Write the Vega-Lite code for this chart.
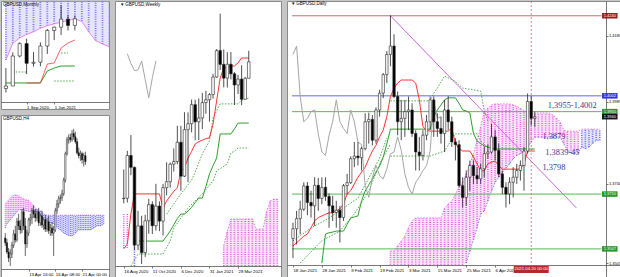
{
"$schema":"https://vega.github.io/schema/vega-lite/v6.json",
"padding":0,
"background":"#c6c6c6",
"spacing":4,
"config":{
 "view":{"stroke":"#8a8a8a","fill":"#ffffff","strokeWidth":1},
 "axis":{"grid":false,"labelFont":"Liberation Sans","labelFontSize":4.3,"labelColor":"#000000","domainColor":"#555555","tickColor":"#555555","tickSize":2,"labelPadding":1,"labelOverlap":false,"labelFlush":false,"domainWidth":0.8,"tickWidth":0.8},
 "title":{"font":"Liberation Sans","fontSize":4.5,"fontWeight":"normal","color":"#000000","anchor":"start","baseline":"middle","offset":-5}
},
"datasets":{
"dc":[
{"i":0,"o":1.3578,"h":1.3625,"l":1.352,"c":1.3607},{"i":1,"o":1.3607,"h":1.366,"l":1.356,"c":1.3637},{"i":2,"o":1.3637,"h":1.369,"l":1.359,"c":1.3665},{"i":3,"o":1.3665,"h":1.3745,"l":1.366,"c":1.3734},{"i":4,"o":1.3734,"h":1.3746,"l":1.3647,"c":1.3685},{"i":5,"o":1.3685,"h":1.372,"l":1.364,"c":1.3675},{"i":6,"o":1.3675,"h":1.376,"l":1.3615,"c":1.3736},{"i":7,"o":1.3736,"h":1.3758,"l":1.366,"c":1.3697},{"i":8,"o":1.3697,"h":1.376,"l":1.368,"c":1.373},{"i":9,"o":1.373,"h":1.376,"l":1.369,"c":1.3703},
{"i":10,"o":1.3703,"h":1.3712,"l":1.361,"c":1.3675},{"i":11,"o":1.3675,"h":1.3705,"l":1.363,"c":1.3655},{"i":12,"o":1.3655,"h":1.369,"l":1.361,"c":1.3662},{"i":13,"o":1.3662,"h":1.3675,"l":1.3566,"c":1.364},{"i":14,"o":1.364,"h":1.374,"l":1.363,"c":1.3735},{"i":15,"o":1.3735,"h":1.377,"l":1.371,"c":1.3744},{"i":16,"o":1.3744,"h":1.3822,"l":1.374,"c":1.3815},{"i":17,"o":1.3815,"h":1.3865,"l":1.379,"c":1.3823},{"i":18,"o":1.3823,"h":1.3865,"l":1.3795,"c":1.3818},{"i":19,"o":1.3818,"h":1.385,"l":1.378,"c":1.3845},
{"i":20,"o":1.3845,"h":1.395,"l":1.384,"c":1.3925},{"i":21,"o":1.3925,"h":1.3952,"l":1.386,"c":1.3932},{"i":22,"o":1.3932,"h":1.3945,"l":1.3855,"c":1.387},{"i":23,"o":1.387,"h":1.3968,"l":1.386,"c":1.396},{"i":24,"o":1.396,"h":1.402,"l":1.394,"c":1.401},{"i":25,"o":1.401,"h":1.407,"l":1.3995,"c":1.4065},{"i":26,"o":1.4065,"h":1.4135,"l":1.404,"c":1.4125},{"i":27,"o":1.4125,"h":1.4241,"l":1.409,"c":1.415},{"i":28,"o":1.415,"h":1.4185,"l":1.3995,"c":1.4},{"i":29,"o":1.4,"h":1.4015,"l":1.3885,"c":1.3925},
{"i":30,"o":1.3925,"h":1.399,"l":1.387,"c":1.3935},{"i":31,"o":1.3935,"h":1.399,"l":1.388,"c":1.3955},{"i":32,"o":1.3955,"h":1.4,"l":1.39,"c":1.396},{"i":33,"o":1.396,"h":1.398,"l":1.388,"c":1.389},{"i":34,"o":1.389,"h":1.39,"l":1.378,"c":1.3835},{"i":35,"o":1.3835,"h":1.388,"l":1.378,"c":1.3825},{"i":36,"o":1.3825,"h":1.39,"l":1.381,"c":1.3885},{"i":37,"o":1.3885,"h":1.3945,"l":1.387,"c":1.3925},{"i":38,"o":1.3925,"h":1.4,"l":1.39,"c":1.399},{"i":39,"o":1.399,"h":1.4,"l":1.388,"c":1.3925},
{"i":40,"o":1.3925,"h":1.395,"l":1.388,"c":1.3905},{"i":41,"o":1.3905,"h":1.394,"l":1.386,"c":1.389},{"i":42,"o":1.389,"h":1.399,"l":1.3835,"c":1.396},{"i":43,"o":1.396,"h":1.4001,"l":1.39,"c":1.3925},{"i":44,"o":1.3925,"h":1.394,"l":1.385,"c":1.3865},{"i":45,"o":1.3865,"h":1.3876,"l":1.381,"c":1.3857},{"i":46,"o":1.3857,"h":1.387,"l":1.373,"c":1.3735},{"i":47,"o":1.3735,"h":1.376,"l":1.367,"c":1.37},{"i":48,"o":1.37,"h":1.378,"l":1.3675,"c":1.376},{"i":49,"o":1.376,"h":1.381,"l":1.372,"c":1.3795},
{"i":50,"o":1.3795,"h":1.381,"l":1.374,"c":1.3765},{"i":51,"o":1.3765,"h":1.379,"l":1.374,"c":1.3755},{"i":52,"o":1.3755,"h":1.38,"l":1.374,"c":1.3785},{"i":53,"o":1.3785,"h":1.385,"l":1.376,"c":1.383},{"i":54,"o":1.383,"h":1.3858,"l":1.3815,"c":1.3835},{"i":55,"o":1.3835,"h":1.3919,"l":1.383,"c":1.388},{"i":56,"o":1.388,"h":1.39,"l":1.381,"c":1.384},{"i":57,"o":1.384,"h":1.386,"l":1.376,"c":1.377},{"i":58,"o":1.377,"h":1.378,"l":1.371,"c":1.373},{"i":59,"o":1.373,"h":1.3745,"l":1.367,"c":1.371},
{"i":60,"o":1.371,"h":1.376,"l":1.368,"c":1.3745},{"i":61,"o":1.3745,"h":1.379,"l":1.37,"c":1.376},{"i":62,"o":1.376,"h":1.38,"l":1.374,"c":1.378},{"i":63,"o":1.378,"h":1.381,"l":1.375,"c":1.3795},{"i":64,"o":1.3795,"h":1.385,"l":1.372,"c":1.3838},{"i":65,"o":1.3838,"h":1.4009,"l":1.383,"c":1.3985},{"i":66,"o":1.3985,"h":1.4002,"l":1.3915,"c":1.3935},{"i":67,"o":1.3935,"h":1.3955,"l":1.391,"c":1.394}
],
"dten":[
{"i":0,"p":1.3556},{"i":1,"p":1.3565},{"i":2,"p":1.3575},{"i":3,"p":1.3585},{"i":4,"p":1.3591},{"i":5,"p":1.361},{"i":6,"p":1.363},{"i":7,"p":1.364},{"i":8,"p":1.3645},{"i":9,"p":1.365},{"i":10,"p":1.3654},{"i":11,"p":1.3654},{"i":12,"p":1.366},{"i":13,"p":1.3666},{"i":14,"p":1.368},{"i":15,"p":1.371},{"i":16,"p":1.372},{"i":17,"p":1.374},{"i":18,"p":1.376},{"i":19,"p":1.3775},{"i":20,"p":1.379},{"i":21,"p":1.3815},{"i":22,"p":1.3838},{"i":23,"p":1.3855},{"i":24,"p":1.388},{"i":25,"p":1.39},{"i":26,"p":1.394},{"i":27,"p":1.4},{"i":28,"p":1.4025},{"i":29,"p":1.404},{"i":30,"p":1.4049},{"i":31,"p":1.4049},{"i":32,"p":1.4049},{"i":33,"p":1.4049},{"i":34,"p":1.404},{"i":35,"p":1.399},{"i":36,"p":1.391},{"i":37,"p":1.39},{"i":38,"p":1.3897},{"i":39,"p":1.3897},{"i":40,"p":1.3897},{"i":41,"p":1.3897},{"i":42,"p":1.3897},{"i":43,"p":1.3897},{"i":44,"p":1.3906},{"i":45,"p":1.386},{"i":46,"p":1.3845},{"i":47,"p":1.3838},{"i":48,"p":1.3838},{"i":49,"p":1.3838},{"i":50,"p":1.382},{"i":51,"p":1.38},{"i":52,"p":1.3779},{"i":53,"p":1.3779},{"i":54,"p":1.38},{"i":55,"p":1.3805},{"i":56,"p":1.3808},{"i":57,"p":1.3795},{"i":58,"p":1.3784},{"i":59,"p":1.3784},{"i":60,"p":1.3784},{"i":61,"p":1.3784},{"i":62,"p":1.3784},{"i":63,"p":1.3784},{"i":64,"p":1.38},{"i":65,"p":1.3838},{"i":66,"p":1.3838},{"i":67,"p":1.3838}
],
"dkij":[
{"i":8,"p":1.3505},{"i":9,"p":1.3591},{"i":10,"p":1.3595},{"i":11,"p":1.3597},{"i":12,"p":1.36},{"i":13,"p":1.36},{"i":14,"p":1.36},{"i":15,"p":1.362},{"i":16,"p":1.3639},{"i":17,"p":1.3642},{"i":18,"p":1.3645},{"i":19,"p":1.369},{"i":20,"p":1.3719},{"i":21,"p":1.3737},{"i":22,"p":1.3755},{"i":23,"p":1.3775},{"i":24,"p":1.3793},{"i":25,"p":1.382},{"i":26,"p":1.3859},{"i":27,"p":1.3903},{"i":38,"p":1.3903},{"i":39,"p":1.394},{"i":40,"p":1.396},{"i":41,"p":1.3975},{"i":42,"p":1.399},{"i":43,"p":1.3996},{"i":45,"p":1.3996},{"i":46,"p":1.398},{"i":47,"p":1.396},{"i":48,"p":1.3957},{"i":49,"p":1.3951},{"i":50,"p":1.389},{"i":51,"p":1.3868},{"i":52,"p":1.386},{"i":53,"p":1.3853},{"i":54,"p":1.385},{"i":55,"p":1.3845},{"i":56,"p":1.3844},{"i":67,"p":1.3844}
],
"dchi":[
{"i":0,"p":1.4125},{"i":1,"p":1.415},{"i":2,"p":1.4},{"i":3,"p":1.3925},{"i":4,"p":1.3935},{"i":5,"p":1.3955},{"i":6,"p":1.396},{"i":7,"p":1.389},{"i":8,"p":1.3835},{"i":9,"p":1.3825},{"i":10,"p":1.3885},{"i":11,"p":1.3925},{"i":12,"p":1.399},{"i":13,"p":1.3925},{"i":14,"p":1.3905},{"i":15,"p":1.389},{"i":16,"p":1.396},{"i":17,"p":1.3925},{"i":18,"p":1.3865},{"i":19,"p":1.3857},{"i":20,"p":1.3735},{"i":21,"p":1.37},{"i":22,"p":1.376},{"i":23,"p":1.3795},{"i":24,"p":1.3765},{"i":25,"p":1.3755},{"i":26,"p":1.3785},{"i":27,"p":1.383},{"i":28,"p":1.3835},{"i":29,"p":1.388},{"i":30,"p":1.384},{"i":31,"p":1.377},{"i":32,"p":1.373},{"i":33,"p":1.371},{"i":34,"p":1.3745},{"i":35,"p":1.376},{"i":36,"p":1.378},{"i":37,"p":1.3795},{"i":38,"p":1.3838},{"i":39,"p":1.3985},{"i":40,"p":1.3935},{"i":41,"p":1.394}
],
"dgd":[
{"s":"a","i":0,"p":1.3571},{"s":"a","i":5,"p":1.3609},{"s":"a","i":10,"p":1.3639},{"s":"a","i":18,"p":1.3698},{"s":"a","i":21,"p":1.3758},{"s":"a","i":24,"p":1.3817},{"s":"a","i":26,"p":1.3877},
{"s":"b","i":2,"p":1.3505},{"s":"b","i":8,"p":1.3571},{"s":"b","i":13,"p":1.36},{"s":"b","i":17,"p":1.3651},{"s":"b","i":21,"p":1.3719},{"s":"b","i":24,"p":1.3799},{"s":"b","i":27,"p":1.3859},
{"s":"c","i":27,"p":1.3987},{"s":"c","i":38,"p":1.3987},{"s":"c","i":39,"p":1.401},{"s":"c","i":40,"p":1.4025},{"s":"c","i":42,"p":1.4061},{"s":"c","i":45,"p":1.4045},{"s":"c","i":47,"p":1.4025},{"s":"c","i":52,"p":1.4016},{"s":"c","i":53,"p":1.3957},{"s":"c","i":54,"p":1.3927},
{"s":"d","i":27,"p":1.3823},{"s":"d","i":38,"p":1.3823},{"s":"d","i":42,"p":1.3838},{"s":"d","i":45,"p":1.3889},{"s":"d","i":51,"p":1.3889},{"s":"d","i":52,"p":1.3868},{"s":"d","i":54,"p":1.3847}
],
"dcl":[
{"i":27,"u":1.3541,"l":1.35,"t":"up"},{"i":28,"u":1.3541,"l":1.35,"t":"up"},{"i":29,"u":1.3556,"l":1.35,"t":"up"},{"i":30,"u":1.357,"l":1.35,"t":"up"},{"i":31,"u":1.3585,"l":1.35,"t":"up"},{"i":32,"u":1.361,"l":1.35,"t":"up"},{"i":33,"u":1.363,"l":1.35,"t":"up"},{"i":34,"u":1.3639,"l":1.35,"t":"up"},{"i":35,"u":1.3639,"l":1.35,"t":"up"},{"i":36,"u":1.3639,"l":1.35,"t":"up"},{"i":37,"u":1.3639,"l":1.35,"t":"up"},{"i":38,"u":1.3639,"l":1.35,"t":"up"},{"i":39,"u":1.3639,"l":1.35,"t":"up"},{"i":40,"u":1.3639,"l":1.35,"t":"up"},{"i":41,"u":1.3639,"l":1.35,"t":"up"},{"i":42,"u":1.3669,"l":1.35,"t":"up"},{"i":43,"u":1.368,"l":1.35,"t":"up"},{"i":44,"u":1.3689,"l":1.35,"t":"up"},{"i":45,"u":1.371,"l":1.35,"t":"up"},{"i":46,"u":1.373,"l":1.35,"t":"up"},{"i":47,"u":1.3745,"l":1.35,"t":"up"},
{"i":48,"u":1.377,"l":1.3505,"t":"up"},{"i":49,"u":1.38,"l":1.354,"t":"up"},{"i":50,"u":1.383,"l":1.3575,"t":"up"},{"i":51,"u":1.387,"l":1.361,"t":"up"},{"i":52,"u":1.391,"l":1.365,"t":"up"},{"i":53,"u":1.3957,"l":1.366,"t":"up"},{"i":54,"u":1.3965,"l":1.369,"t":"up"},{"i":55,"u":1.3975,"l":1.372,"t":"up"},{"i":56,"u":1.3978,"l":1.3745,"t":"up"},{"i":57,"u":1.3978,"l":1.376,"t":"up"},{"i":58,"u":1.3978,"l":1.3775,"t":"up"},{"i":59,"u":1.3978,"l":1.3787,"t":"up"},{"i":60,"u":1.3978,"l":1.38,"t":"up"},{"i":61,"u":1.3975,"l":1.3815,"t":"up"},{"i":62,"u":1.397,"l":1.3825,"t":"up"},{"i":63,"u":1.3965,"l":1.383,"t":"up"},{"i":64,"u":1.3958,"l":1.3838,"t":"up"},{"i":65,"u":1.3951,"l":1.385,"t":"up"},{"i":66,"u":1.3951,"l":1.3865,"t":"up"},{"i":67,"u":1.3951,"l":1.3879,"t":"up"},{"i":68,"u":1.3951,"l":1.3879,"t":"up"},{"i":69,"u":1.3951,"l":1.3879,"t":"up"},{"i":70,"u":1.3951,"l":1.3879,"t":"up"},{"i":71,"u":1.3951,"l":1.3879,"t":"up"},{"i":72,"u":1.3945,"l":1.3879,"t":"up"},{"i":73,"u":1.3936,"l":1.3879,"t":"up"},{"i":74,"u":1.3925,"l":1.3879,"t":"up"},{"i":75,"u":1.39,"l":1.386,"t":"up"},{"i":76,"u":1.3897,"l":1.384,"t":"up"},{"i":77,"u":1.3897,"l":1.3832,"t":"up"},{"i":78,"u":1.3897,"l":1.3832,"t":"up"},{"i":79,"u":1.3897,"l":1.3832,"t":"up"},
{"i":80,"u":1.3903,"l":1.385,"t":"dn"},{"i":81,"u":1.3903,"l":1.3845,"t":"dn"},{"i":82,"u":1.3903,"l":1.385,"t":"dn"},{"i":83,"u":1.3903,"l":1.386,"t":"dn"},{"i":84,"u":1.3903,"l":1.387,"t":"dn"},{"i":85,"u":1.3903,"l":1.387,"t":"dn"}
],
"dlev":[
{"p":1.424,"k":"red","lab":"1.4240","line":true},
{"p":1.4002,"k":"blue","lab":"1.4002","line":true},
{"p":1.3955,"k":"green","lab":"1.3955","line":true},
{"p":1.394,"k":"black","lab":"1.3940","line":false},
{"p":1.371,"k":"green","lab":"1.3710","line":true},
{"p":1.3547,"k":"green","lab":"1.3547","line":true}
],
"dnote":[
{"i":70.6,"p":1.3976,"t":"1,3955-1,4002"},
{"i":69.1,"p":1.38826,"t":"1,3879"},
{"i":69.9,"p":1.38336,"t":"1,3839-45"},
{"i":69.1,"p":1.37905,"t":"1,3798"}
],
"dtl":[{"i":27,"p":1.424},{"i":78.5,"p":1.3669}],
"dtime":[{"i":66,"t":"2021.04.20 00:00"}],
"wc":[
{"w":0,"o":1.3085,"h":1.3267,"l":1.3055,"c":1.3087},{"w":1,"o":1.3087,"h":1.3383,"l":1.306,"c":1.3354},{"w":2,"o":1.3354,"h":1.3482,"l":1.3231,"c":1.328},{"w":3,"o":1.328,"h":1.3285,"l":1.2763,"c":1.2794},{"w":4,"o":1.2794,"h":1.3008,"l":1.2763,"c":1.2914},{"w":5,"o":1.2914,"h":1.2977,"l":1.2676,"c":1.2747},{"w":6,"o":1.2747,"h":1.2984,"l":1.272,"c":1.2946},{"w":7,"o":1.2946,"h":1.3083,"l":1.2865,"c":1.3047},{"w":8,"o":1.3047,"h":1.3068,"l":1.2863,"c":1.2915},{"w":9,"o":1.2915,"h":1.3177,"l":1.2884,"c":1.3038},
{"w":10,"o":1.3038,"h":1.3067,"l":1.2881,"c":1.2944},{"w":11,"o":1.2944,"h":1.3177,"l":1.2854,"c":1.3153},{"w":12,"o":1.3153,"h":1.3312,"l":1.3105,"c":1.319},{"w":13,"o":1.319,"h":1.331,"l":1.3153,"c":1.33},{"w":14,"o":1.33,"h":1.3398,"l":1.3254,"c":1.3316},{"w":15,"o":1.3316,"h":1.354,"l":1.33,"c":1.3437},{"w":16,"o":1.3437,"h":1.354,"l":1.3134,"c":1.3225},{"w":17,"o":1.3225,"h":1.3625,"l":1.322,"c":1.3516},{"w":18,"o":1.3516,"h":1.3624,"l":1.3188,"c":1.3553},{"w":19,"o":1.3553,"h":1.3704,"l":1.3499,"c":1.3672},
{"w":20,"o":1.3672,"h":1.3703,"l":1.345,"c":1.3565},{"w":21,"o":1.3565,"h":1.3711,"l":1.3451,"c":1.3589},{"w":22,"o":1.3589,"h":1.3746,"l":1.352,"c":1.3685},{"w":23,"o":1.3685,"h":1.3759,"l":1.3615,"c":1.3703},{"w":24,"o":1.3703,"h":1.3745,"l":1.3566,"c":1.3735},{"w":25,"o":1.3735,"h":1.3865,"l":1.371,"c":1.3845},{"w":26,"o":1.3845,"h":1.402,"l":1.384,"c":1.401},{"w":27,"o":1.401,"h":1.4241,"l":1.3889,"c":1.3924},{"w":28,"o":1.3924,"h":1.4017,"l":1.378,"c":1.3838},{"w":29,"o":1.3838,"h":1.4,"l":1.3779,"c":1.3925},
{"w":30,"o":1.3925,"h":1.4001,"l":1.383,"c":1.3865},{"w":31,"o":1.3865,"h":1.3876,"l":1.367,"c":1.3795},{"w":32,"o":1.3795,"h":1.3858,"l":1.3739,"c":1.3832},{"w":33,"o":1.3832,"h":1.3919,"l":1.3669,"c":1.3706},{"w":34,"o":1.3706,"h":1.3845,"l":1.3706,"c":1.3837},{"w":35,"o":1.3837,"h":1.4009,"l":1.3837,"c":1.394}
],
"wten":[
{"w":0,"p":1.277},{"w":1,"p":1.2801},{"w":2,"p":1.2989},{"w":3,"p":1.3114},{"w":10,"p":1.3114},{"w":11,"p":1.3026},{"w":12,"p":1.307},{"w":13,"p":1.31},{"w":14,"p":1.313},{"w":15,"p":1.3151},{"w":16,"p":1.3257},{"w":17,"p":1.3276},{"w":18,"p":1.3339},{"w":19,"p":1.338},{"w":20,"p":1.3426},{"w":21,"p":1.344},{"w":22,"p":1.345},{"w":23,"p":1.346},{"w":24,"p":1.3464},{"w":25,"p":1.3551},{"w":26,"p":1.3695},{"w":27,"p":1.3839},{"w":28,"p":1.3901},{"w":29,"p":1.3905},{"w":30,"p":1.3914},{"w":31,"p":1.3914},{"w":32,"p":1.3933},{"w":33,"p":1.3964},{"w":35,"p":1.3964}
],
"wkij":[
{"w":4,"p":1.2819},{"w":11,"p":1.2819},{"w":12,"p":1.285},{"w":13,"p":1.2882},{"w":14,"p":1.292},{"w":15,"p":1.296},{"w":16,"p":1.2988},{"w":17,"p":1.2988},{"w":18,"p":1.3007},{"w":19,"p":1.303},{"w":20,"p":1.306},{"w":21,"p":1.3088},{"w":22,"p":1.3088},{"w":23,"p":1.316},{"w":24,"p":1.3239},{"w":25,"p":1.329},{"w":26,"p":1.3339},{"w":27,"p":1.3489},{"w":30,"p":1.3489},{"w":31,"p":1.352},{"w":32,"p":1.3557},{"w":35,"p":1.3557}
],
"wchi":[
{"w":1,"p":1.399},{"w":2,"p":1.393},{"w":3,"p":1.3885},{"w":4,"p":1.389},{"w":5,"p":1.3945},{"w":6,"p":1.383},{"w":7,"p":1.3714},{"w":8,"p":1.384},{"w":9,"p":1.3945}
],
"wgd":[
{"s":"a","w":12,"p":1.2988},{"s":"a","w":16,"p":1.3114},{"s":"a","w":19,"p":1.32},{"s":"a","w":20,"p":1.325},{"s":"a","w":22,"p":1.3364},{"s":"a","w":24,"p":1.3445},{"s":"a","w":25,"p":1.3589},{"s":"a","w":27,"p":1.3677},{"s":"a","w":32,"p":1.3677},{"s":"a","w":33,"p":1.37},{"s":"a","w":35,"p":1.3714},
{"s":"b","w":2,"p":1.2663},{"s":"b","w":4,"p":1.2738},{"s":"b","w":11,"p":1.2738},{"s":"b","w":13,"p":1.2819},{"s":"b","w":14,"p":1.29},{"s":"b","w":16,"p":1.2963},{"s":"b","w":18,"p":1.3026},{"s":"b","w":22,"p":1.3114},{"s":"b","w":25,"p":1.3195},{"s":"b","w":26,"p":1.3257},{"s":"b","w":29,"p":1.3301},{"s":"b","w":30,"p":1.337},{"s":"b","w":31,"p":1.3382},{"s":"b","w":32,"p":1.3401},{"s":"b","w":35,"p":1.3401}
],
"wcl":[
{"w":0,"u":1.2988,"l":1.2775,"t":"up"},{"w":1,"u":1.2988,"l":1.2775,"t":"up"},{"w":3,"u":1.2863,"l":1.2663,"t":"dn"},
{"w":28,"u":1.279,"l":1.2663,"t":"up"},{"w":29,"u":1.288,"l":1.2663,"t":"up"},{"w":30,"u":1.2957,"l":1.2663,"t":"up"},{"w":31,"u":1.2957,"l":1.2663,"t":"up"},{"w":32,"u":1.2957,"l":1.2663,"t":"up"},{"w":33,"u":1.2957,"l":1.2663,"t":"up"},{"w":34,"u":1.2957,"l":1.2663,"t":"up"},{"w":35,"u":1.2957,"l":1.2663,"t":"up"},{"w":36,"u":1.2957,"l":1.2663,"t":"up"},{"w":37,"u":1.2894,"l":1.2663,"t":"up"},{"w":38,"u":1.2894,"l":1.2663,"t":"up"},{"w":39,"u":1.2894,"l":1.2663,"t":"up"},{"w":40,"u":1.3006,"l":1.2663,"t":"up"},{"w":41,"u":1.3069,"l":1.2663,"t":"up"},{"w":42,"u":1.3081,"l":1.2663,"t":"up"},{"w":43,"u":1.3081,"l":1.2663,"t":"up"}
],
"mc":[
{"m":-1,"o":1.2346,"h":1.2813,"l":1.2252,"c":1.2402},{"m":0,"o":1.2402,"h":1.317,"l":1.24,"c":1.3087},{"m":1,"o":1.3087,"h":1.34,"l":1.3057,"c":1.337},{"m":2,"o":1.337,"h":1.3482,"l":1.2676,"c":1.292},{"m":3,"o":1.292,"h":1.3177,"l":1.2846,"c":1.2945},{"m":4,"o":1.2945,"h":1.3398,"l":1.2854,"c":1.3315},{"m":5,"o":1.3315,"h":1.3704,"l":1.3134,"c":1.367},{"m":6,"o":1.367,"h":1.3759,"l":1.345,"c":1.3745},{"m":7,"o":1.3745,"h":1.4241,"l":1.3566,"c":1.393},{"m":8,"o":1.393,"h":1.4017,"l":1.367,"c":1.3785},{"m":9,"o":1.3785,"h":1.4009,"l":1.3669,"c":1.394}
],
"mten":[{"m":2,"p":1.2471},{"m":4,"p":1.2471},{"m":5,"p":1.2904},{"m":6,"p":1.2927},{"m":7,"p":1.327},{"m":8,"p":1.3384},{"m":9,"p":1.3452}],
"mkij":[{"m":-1,"p":1.2471},{"m":4,"p":1.2471},{"m":5,"p":1.2745},{"m":6,"p":1.2813},{"m":7,"p":1.2859},{"m":9,"p":1.2859}],
"mgd":[{"s":"a","m":0,"p":1.2722},{"s":"a","m":2,"p":1.2722},{"s":"b","m":6,"p":1.2516},{"s":"b","m":9,"p":1.2516},{"s":"c","m":7,"p":1.3155},{"s":"c","m":8,"p":1.3155}],
"mcl":[{"m":-1,"p":1.2996},{"m":0,"p":1.338},{"m":1,"p":1.35},{"m":2,"p":1.358},{"m":3,"p":1.364},{"m":4,"p":1.372},{"m":5,"p":1.378},{"m":6,"p":1.382},{"m":7,"p":1.386},{"m":8,"p":1.39},{"m":9,"p":1.3932},{"m":10,"p":1.388},{"m":11,"p":1.364},{"m":12,"p":1.344},{"m":13,"p":1.3361},{"m":14,"p":1.33}],
"hc":[
{"h":2,"o":1.374,"hi":1.3752,"l":1.372,"c":1.3728},{"h":3,"o":1.3728,"hi":1.3738,"l":1.37,"c":1.3705},{"h":4,"o":1.3705,"hi":1.3715,"l":1.368,"c":1.369},{"h":5,"o":1.369,"hi":1.3712,"l":1.367,"c":1.37},{"h":6,"o":1.37,"hi":1.373,"l":1.369,"c":1.3722},{"h":7,"o":1.3722,"hi":1.376,"l":1.3715,"c":1.375},{"h":8,"o":1.375,"hi":1.377,"l":1.3728,"c":1.3735},{"h":9,"o":1.3735,"hi":1.379,"l":1.373,"c":1.3782},{"h":10,"o":1.3782,"hi":1.38,"l":1.376,"c":1.377},{"h":11,"o":1.377,"hi":1.3785,"l":1.375,"c":1.376},
{"h":12,"o":1.376,"hi":1.3812,"l":1.3752,"c":1.3805},{"h":13,"o":1.3805,"hi":1.3815,"l":1.376,"c":1.377},{"h":14,"o":1.377,"hi":1.379,"l":1.3695,"c":1.3725},{"h":15,"o":1.3725,"hi":1.376,"l":1.3715,"c":1.3752},{"h":16,"o":1.3752,"hi":1.379,"l":1.3745,"c":1.3785},{"h":17,"o":1.3785,"hi":1.38,"l":1.377,"c":1.379},{"h":18,"o":1.379,"hi":1.3815,"l":1.3775,"c":1.3808},{"h":19,"o":1.3808,"hi":1.3822,"l":1.379,"c":1.38},{"h":20,"o":1.38,"hi":1.3812,"l":1.378,"c":1.379},{"h":21,"o":1.379,"hi":1.381,"l":1.3782,"c":1.3805},
{"h":22,"o":1.3805,"hi":1.3815,"l":1.377,"c":1.3778},{"h":23,"o":1.3778,"hi":1.38,"l":1.377,"c":1.3795},{"h":24,"o":1.3795,"hi":1.3808,"l":1.3765,"c":1.3772},{"h":25,"o":1.3772,"hi":1.379,"l":1.376,"c":1.3785},{"h":26,"o":1.3785,"hi":1.3798,"l":1.3755,"c":1.3762},{"h":27,"o":1.3762,"hi":1.379,"l":1.3755,"c":1.378},{"h":28,"o":1.378,"hi":1.3795,"l":1.375,"c":1.3758},{"h":29,"o":1.3758,"hi":1.3775,"l":1.3745,"c":1.3765},{"h":30,"o":1.3765,"hi":1.378,"l":1.3745,"c":1.3752},{"h":31,"o":1.3752,"hi":1.377,"l":1.3695,"c":1.376},
{"h":32,"o":1.376,"hi":1.3815,"l":1.3755,"c":1.3808},{"h":33,"o":1.3808,"hi":1.3835,"l":1.38,"c":1.3825},{"h":34,"o":1.3825,"hi":1.3845,"l":1.3815,"c":1.3838},{"h":35,"o":1.3838,"hi":1.3848,"l":1.3825,"c":1.384},{"h":36,"o":1.384,"hi":1.386,"l":1.3832,"c":1.385},{"h":37,"o":1.385,"hi":1.389,"l":1.3845,"c":1.3884},{"h":38,"o":1.3884,"hi":1.3955,"l":1.3878,"c":1.395},{"h":39,"o":1.395,"hi":1.3992,"l":1.3945,"c":1.3985},{"h":40,"o":1.3985,"hi":1.3998,"l":1.3975,"c":1.399},{"h":41,"o":1.399,"hi":1.4,"l":1.3978,"c":1.3985},
{"h":42,"o":1.3985,"hi":1.4009,"l":1.398,"c":1.4},{"h":43,"o":1.4,"hi":1.4012,"l":1.3985,"c":1.3992},{"h":44,"o":1.3992,"hi":1.4005,"l":1.3975,"c":1.398},{"h":45,"o":1.398,"hi":1.3988,"l":1.3948,"c":1.3952},{"h":46,"o":1.3952,"hi":1.3965,"l":1.3938,"c":1.3945},{"h":47,"o":1.3945,"hi":1.3958,"l":1.3932,"c":1.395},{"h":48,"o":1.395,"hi":1.3955,"l":1.3925,"c":1.3935},{"h":49,"o":1.3935,"hi":1.3952,"l":1.3918,"c":1.3945},{"h":50,"o":1.3945,"hi":1.3955,"l":1.3922,"c":1.393}
],
"hcl":[
{"h":2,"u":1.3825,"l":1.3765,"t":"up"},{"h":3,"u":1.383,"l":1.3775,"t":"up"},{"h":4,"u":1.3835,"l":1.378,"t":"up"},{"h":5,"u":1.384,"l":1.3785,"t":"up"},{"h":6,"u":1.3845,"l":1.379,"t":"up"},{"h":7,"u":1.3846,"l":1.3795,"t":"up"},{"h":8,"u":1.3847,"l":1.38,"t":"up"},{"h":9,"u":1.3847,"l":1.3805,"t":"up"},{"h":10,"u":1.3845,"l":1.381,"t":"up"},{"h":11,"u":1.3842,"l":1.381,"t":"up"},{"h":12,"u":1.384,"l":1.381,"t":"up"},{"h":13,"u":1.3838,"l":1.381,"t":"up"},{"h":14,"u":1.3835,"l":1.3808,"t":"up"},{"h":15,"u":1.3835,"l":1.3807,"t":"up"},{"h":16,"u":1.3834,"l":1.3806,"t":"up"},{"h":17,"u":1.383,"l":1.3806,"t":"up"},{"h":18,"u":1.3824,"l":1.3808,"t":"up"},{"h":19,"u":1.3818,"l":1.381,"t":"up"},
{"h":20,"u":1.3815,"l":1.3805,"t":"dn"},{"h":21,"u":1.3812,"l":1.38,"t":"dn"},{"h":22,"u":1.381,"l":1.3795,"t":"dn"},{"h":23,"u":1.3808,"l":1.379,"t":"dn"},{"h":24,"u":1.3805,"l":1.3788,"t":"dn"},{"h":25,"u":1.38,"l":1.3785,"t":"dn"},{"h":26,"u":1.3797,"l":1.3785,"t":"dn"},{"h":27,"u":1.3797,"l":1.3783,"t":"dn"},{"h":28,"u":1.3797,"l":1.378,"t":"dn"},{"h":29,"u":1.3797,"l":1.3778,"t":"dn"},{"h":30,"u":1.3797,"l":1.3777,"t":"dn"},{"h":31,"u":1.3797,"l":1.3775,"t":"dn"},{"h":32,"u":1.3797,"l":1.3772,"t":"dn"},{"h":33,"u":1.3797,"l":1.3768,"t":"dn"},{"h":34,"u":1.3797,"l":1.3762,"t":"dn"},{"h":35,"u":1.3797,"l":1.376,"t":"dn"},{"h":36,"u":1.3797,"l":1.3756,"t":"dn"},{"h":37,"u":1.3797,"l":1.3752,"t":"dn"},{"h":38,"u":1.3797,"l":1.375,"t":"dn"},{"h":39,"u":1.3797,"l":1.3748,"t":"dn"},{"h":40,"u":1.3797,"l":1.3746,"t":"dn"},{"h":41,"u":1.3797,"l":1.3745,"t":"dn"},{"h":42,"u":1.3797,"l":1.3745,"t":"dn"},{"h":43,"u":1.3797,"l":1.3748,"t":"dn"},{"h":44,"u":1.3797,"l":1.3752,"t":"dn"},{"h":45,"u":1.3797,"l":1.3756,"t":"dn"},{"h":46,"u":1.3797,"l":1.376,"t":"dn"},{"h":47,"u":1.3797,"l":1.376,"t":"dn"},{"h":48,"u":1.3797,"l":1.376,"t":"dn"},{"h":49,"u":1.3797,"l":1.376,"t":"dn"},{"h":50,"u":1.3797,"l":1.376,"t":"dn"},{"h":51,"u":1.3797,"l":1.376,"t":"dn"},{"h":52,"u":1.3797,"l":1.376,"t":"dn"},{"h":53,"u":1.3797,"l":1.376,"t":"dn"},{"h":54,"u":1.3797,"l":1.3762,"t":"dn"},{"h":55,"u":1.3797,"l":1.3765,"t":"dn"},{"h":56,"u":1.3797,"l":1.3767,"t":"dn"},{"h":57,"u":1.3797,"l":1.377,"t":"dn"},{"h":58,"u":1.3797,"l":1.377,"t":"dn"},{"h":59,"u":1.3797,"l":1.377,"t":"dn"},{"h":60,"u":1.3797,"l":1.3772,"t":"dn"},{"h":61,"u":1.3797,"l":1.3775,"t":"dn"}
]
},
"hconcat":[
{"spacing":4,"vconcat":[
 {"width":108,"height":108,"title":{"text":"GBPUSD,Monthly","dx":2},
  "layer":[
   {"data":{"name":"mcl"},"mark":{"type":"area","color":"#b4b4ff","opacity":0.35,"clip":true},
    "encoding":{"x":{"field":"m","type":"quantitative","title":null,"scale":{"domain":[-0.987,13.22],"nice":false,"zero":false},"axis":{"orient":"bottom","offset":-7,"values":[2,6],"labelAlign":"left","labelExpr":"datum.value==2?'1 Sep 2020':'1 Jan 2021'"}},
     "y":{"field":"p","type":"quantitative","title":null,"axis":null,"scale":{"domain":[1.18769,1.43427],"nice":false,"zero":false}},"y2":{"datum":1.43427}}},
   {"data":{"name":"mcl"},"mark":{"type":"rule","color":"#7d70e8","strokeWidth":1.8,"strokeDash":[1,1.3],"clip":true},
    "encoding":{"x":{"field":"m","type":"quantitative","title":null},"y":{"field":"p","type":"quantitative","title":null,"axis":null},"y2":{"datum":1.43427}}},
   {"data":{"name":"mcl"},"mark":{"type":"line","color":"#e68ae6","strokeWidth":1,"clip":true},
    "encoding":{"x":{"field":"m","type":"quantitative","title":null},"y":{"field":"p","type":"quantitative","title":null,"axis":null}}},
   {"data":{"name":"mgd"},"mark":{"type":"line","color":"#3aa03a","strokeWidth":0.9,"strokeDash":[1.5,1.5],"clip":true},
    "encoding":{"x":{"field":"m","type":"quantitative","title":null},"y":{"field":"p","type":"quantitative","title":null,"axis":null},"detail":{"field":"s"}}},
   {"data":{"name":"mkij"},"mark":{"type":"line","color":"#2e9e2e","strokeWidth":1,"clip":true},
    "encoding":{"x":{"field":"m","type":"quantitative","title":null},"y":{"field":"p","type":"quantitative","title":null,"axis":null}}},
   {"data":{"name":"mten"},"mark":{"type":"line","color":"#ff3030","strokeWidth":1,"opacity":0.75,"clip":true},
    "encoding":{"x":{"field":"m","type":"quantitative","title":null},"y":{"field":"p","type":"quantitative","title":null,"axis":null}}},
   {"data":{"name":"mc"},"mark":{"type":"rule","color":"#222222","strokeWidth":0.8,"clip":true},
    "encoding":{"x":{"field":"m","type":"quantitative","title":null},"y":{"field":"l","type":"quantitative","title":null,"axis":null},"y2":{"field":"h"}}},
   {"data":{"name":"mc"},"mark":{"type":"bar","width":3.2,"stroke":"#222222","strokeWidth":0.6,"clip":true},
    "encoding":{"x":{"field":"m","type":"quantitative","title":null},"y":{"field":"o","type":"quantitative","title":null,"axis":null},"y2":{"field":"c"},
     "fill":{"condition":{"test":"datum.c < datum.o","value":"#000000"},"value":"#ffffff"}}}
  ]},
 {"width":108,"height":165,"title":{"text":"GBPUSD,H4","dx":2},
  "layer":[
   {"data":{"name":"hcl"},"transform":[{"filter":"datum.t=='up'"}],"mark":{"type":"area","color":"#f4a6f4","opacity":0.3,"clip":true},
    "encoding":{"x":{"field":"h","type":"quantitative","title":null,"scale":{"domain":[2.446,61.14],"nice":false,"zero":false},"axis":{"orient":"bottom","offset":-11,"values":[16,32,48],"labelAlign":"left","labelExpr":"datum.value==16?'13 Apr 16:00':datum.value==32?'16 Apr 08:00':'21 Apr 00:00'"}},
     "y":{"field":"l","type":"quantitative","title":null,"axis":null,"scale":{"domain":[1.36351,1.40464],"nice":false,"zero":false}},"y2":{"field":"u"}}},
   {"data":{"name":"hcl"},"transform":[{"filter":"datum.t=='dn'"}],"mark":{"type":"area","color":"#a8a8ff","opacity":0.3,"clip":true},
    "encoding":{"x":{"field":"h","type":"quantitative","title":null},"y":{"field":"l","type":"quantitative","title":null,"axis":null},"y2":{"field":"u"}}},
   {"data":{"name":"hcl"},"mark":{"type":"rule","strokeWidth":1,"strokeDash":[1,1],"clip":true},
    "encoding":{"x":{"field":"h","type":"quantitative","title":null},"y":{"field":"l","type":"quantitative","title":null,"axis":null},"y2":{"field":"u"},"color":{"condition":{"test":"datum.t=='dn'","value":"#6a6aff"},"value":"#e45ee4"}}},
   {"data":{"name":"hcl"},"mark":{"type":"line","color":"#d85ad8","strokeWidth":0.7,"strokeDash":[1,1],"clip":true},
    "encoding":{"x":{"field":"h","type":"quantitative","title":null},"y":{"field":"u","type":"quantitative","title":null,"axis":null}}},
   {"data":{"name":"hcl"},"mark":{"type":"line","color":"#5a5aff","strokeWidth":0.7,"strokeDash":[1,1],"clip":true},
    "encoding":{"x":{"field":"h","type":"quantitative","title":null},"y":{"field":"l","type":"quantitative","title":null,"axis":null}}},
   {"data":{"name":"hc"},"mark":{"type":"rule","color":"#222222","strokeWidth":0.7,"clip":true},
    "encoding":{"x":{"field":"h","type":"quantitative","title":null},"y":{"field":"l","type":"quantitative","title":null,"axis":null},"y2":{"field":"hi"}}},
   {"data":{"name":"hc"},"mark":{"type":"bar","width":1.3,"stroke":"#222222","strokeWidth":0.5,"clip":true},
    "encoding":{"x":{"field":"h","type":"quantitative","title":null},"y":{"field":"o","type":"quantitative","title":null,"axis":null},"y2":{"field":"c"},
     "fill":{"condition":{"test":"datum.c < datum.o","value":"#000000"},"value":"#ffffff"}}}
  ]}
]},
{"width":166,"height":277,"title":{"text":"▾ GBPUSD,Weekly","dx":6},
 "layer":[
  {"data":{"name":"wcl"},"transform":[{"filter":"datum.w>=28"}],"mark":{"type":"area","color":"#f4a6f4","opacity":0.3,"clip":true},
   "encoding":{"x":{"field":"w","type":"quantitative","title":null,"scale":{"domain":[-1.053,42.63],"nice":false,"zero":false},"axis":{"orient":"bottom","offset":-12,"values":[0,8,16,24,32],"labelAlign":"left","labelExpr":"['16 Aug 2020','11 Oct 2020','6 Dec 2020','31 Jan 2021','28 Mar 2021'][round(datum.value/8)]"}},
    "y":{"field":"l","type":"quantitative","title":null,"axis":null,"scale":{"domain":[1.25881,1.43204],"nice":false,"zero":false}},"y2":{"field":"u"}}},
  {"data":{"name":"wcl"},"mark":{"type":"rule","strokeWidth":1.6,"strokeDash":[1,1.2],"clip":true},
   "encoding":{"x":{"field":"w","type":"quantitative","title":null},"y":{"field":"l","type":"quantitative","title":null,"axis":null},"y2":{"field":"u"},"color":{"condition":{"test":"datum.t=='dn'","value":"#6a6aff"},"value":"#e45ee4"}}},
  {"data":{"name":"wcl"},"transform":[{"filter":"datum.w>=28"}],"mark":{"type":"line","color":"#d85ad8","strokeWidth":0.8,"strokeDash":[1.5,1.5],"clip":true},
   "encoding":{"x":{"field":"w","type":"quantitative","title":null},"y":{"field":"u","type":"quantitative","title":null,"axis":null}}},
  {"data":{"name":"wgd"},"mark":{"type":"line","color":"#3aa03a","strokeWidth":0.9,"strokeDash":[1.5,1.5],"clip":true},
   "encoding":{"x":{"field":"w","type":"quantitative","title":null},"y":{"field":"p","type":"quantitative","title":null,"axis":null},"detail":{"field":"s"}}},
  {"data":{"name":"wkij"},"mark":{"type":"line","color":"#2e9e2e","strokeWidth":1,"clip":true},
   "encoding":{"x":{"field":"w","type":"quantitative","title":null},"y":{"field":"p","type":"quantitative","title":null,"axis":null}}},
  {"data":{"name":"wten"},"mark":{"type":"line","color":"#ff3333","strokeWidth":1,"clip":true},
   "encoding":{"x":{"field":"w","type":"quantitative","title":null},"y":{"field":"p","type":"quantitative","title":null,"axis":null}}},
  {"data":{"name":"wchi"},"mark":{"type":"line","color":"#a6a6a6","strokeWidth":1,"clip":true},
   "encoding":{"x":{"field":"w","type":"quantitative","title":null},"y":{"field":"p","type":"quantitative","title":null,"axis":null}}},
  {"data":{"name":"wc"},"mark":{"type":"rule","color":"#222222","strokeWidth":0.8,"clip":true},
   "encoding":{"x":{"field":"w","type":"quantitative","title":null},"y":{"field":"l","type":"quantitative","title":null,"axis":null},"y2":{"field":"h"}}},
  {"data":{"name":"wc"},"mark":{"type":"bar","width":2.6,"stroke":"#222222","strokeWidth":0.6,"clip":true},
   "encoding":{"x":{"field":"w","type":"quantitative","title":null},"y":{"field":"o","type":"quantitative","title":null,"axis":null},"y2":{"field":"c"},
    "fill":{"condition":{"test":"datum.c < datum.o","value":"#000000"},"value":"#ffffff"}}}
 ]},
{"width":337,"height":277,"title":{"text":"▾ GBPUSD,Daily","dx":5},
 "layer":[
  {"data":{"name":"dcl"},"transform":[{"filter":"datum.t=='up'"}],"mark":{"type":"area","color":"#f4a6f4","opacity":0.3,"clip":true},
   "encoding":{"x":{"field":"i","type":"quantitative","title":null,"scale":{"domain":[-0.27,90.32],"nice":false,"zero":false},"axis":{"orient":"bottom","offset":-13,"values":[0,8,16,24,32,40,48,56],"labelAlign":"left","labelExpr":"['18 Jan 2021','28 Jan 2021','9 Feb 2021','19 Feb 2021','3 Mar 2021','15 Mar 2021','25 Mar 2021','6 Apr 2021'][round(datum.value/8)]"}},
    "y":{"field":"l","type":"quantitative","title":null,"scale":{"domain":[1.34605,1.42839],"nice":false,"zero":false},"axis":{"orient":"right","offset":-18,"labelPadding":0.5,"labelFontSize":4,"values":[1.4275,1.4225,1.418,1.413,1.408,1.403,1.3985,1.389,1.384,1.379,1.374,1.369,1.364,1.36,1.3505],"format":".4f"}},"y2":{"field":"u"}}},
  {"data":{"name":"dcl"},"transform":[{"filter":"datum.t=='dn'"}],"mark":{"type":"area","color":"#a8a8ff","opacity":0.3,"clip":true},
   "encoding":{"x":{"field":"i","type":"quantitative","title":null},"y":{"field":"l","type":"quantitative","title":null},"y2":{"field":"u"}}},
  {"data":{"name":"dcl"},"mark":{"type":"rule","strokeWidth":1.6,"strokeDash":[1,1.2],"clip":true},
   "encoding":{"x":{"field":"i","type":"quantitative","title":null},"y":{"field":"l","type":"quantitative","title":null},"y2":{"field":"u"},"color":{"condition":{"test":"datum.t=='dn'","value":"#6a6aff"},"value":"#e45ee4"}}},
  {"data":{"name":"dcl"},"mark":{"type":"line","color":"#d85ad8","strokeWidth":0.8,"strokeDash":[1.5,1.5],"clip":true},
   "encoding":{"x":{"field":"i","type":"quantitative","title":null},"y":{"field":"u","type":"quantitative","title":null}}},
  {"data":{"name":"dcl"},"transform":[{"filter":"datum.l>1.3502"}],"mark":{"type":"line","color":"#5a5aff","strokeWidth":0.8,"strokeDash":[1.5,1.5],"clip":true},
   "encoding":{"x":{"field":"i","type":"quantitative","title":null},"y":{"field":"l","type":"quantitative","title":null}}},
  {"data":{"name":"dlev"},"transform":[{"filter":"datum.line"}],"mark":{"type":"rule","strokeWidth":1},
   "encoding":{"y":{"field":"p","type":"quantitative","title":null},"x":{"datum":-0.27,"type":"quantitative","title":null},"x2":{"datum":85.5},
    "color":{"condition":[{"test":"datum.k=='red'","value":"#cc6a6a"},{"test":"datum.k=='blue'","value":"#6464ff"}],"value":"#55b855"}}},
  {"data":{"name":"dtl"},"mark":{"type":"line","color":"#cc66dd","strokeWidth":1,"clip":true},
   "encoding":{"x":{"field":"i","type":"quantitative","title":null},"y":{"field":"p","type":"quantitative","title":null}}},
  {"data":{"name":"dgd"},"mark":{"type":"line","color":"#3aa03a","strokeWidth":0.9,"strokeDash":[1.5,1.5],"clip":true},
   "encoding":{"x":{"field":"i","type":"quantitative","title":null},"y":{"field":"p","type":"quantitative","title":null},"detail":{"field":"s"}}},
  {"data":{"name":"dkij"},"mark":{"type":"line","color":"#2e9e2e","strokeWidth":1,"clip":true},
   "encoding":{"x":{"field":"i","type":"quantitative","title":null},"y":{"field":"p","type":"quantitative","title":null}}},
  {"data":{"name":"dten"},"mark":{"type":"line","color":"#ff3333","strokeWidth":1,"clip":true},
   "encoding":{"x":{"field":"i","type":"quantitative","title":null},"y":{"field":"p","type":"quantitative","title":null}}},
  {"data":{"name":"dchi"},"mark":{"type":"line","color":"#a6a6a6","strokeWidth":1,"clip":true},
   "encoding":{"x":{"field":"i","type":"quantitative","title":null},"y":{"field":"p","type":"quantitative","title":null}}},
  {"data":{"name":"dtime"},"mark":{"type":"rule","color":"#e06666","strokeWidth":0.8,"strokeDash":[2,2]},
   "encoding":{"x":{"field":"i","type":"quantitative","title":null},"y":{"datum":1.42839,"type":"quantitative","title":null},"y2":{"datum":1.3499}}},
  {"data":{"name":"dc"},"mark":{"type":"rule","color":"#222222","strokeWidth":0.8,"clip":true},
   "encoding":{"x":{"field":"i","type":"quantitative","title":null},"y":{"field":"l","type":"quantitative","title":null},"y2":{"field":"h"}}},
  {"data":{"name":"dc"},"mark":{"type":"bar","width":2.4,"stroke":"#222222","strokeWidth":0.6,"clip":true},
   "encoding":{"x":{"field":"i","type":"quantitative","title":null},"y":{"field":"o","type":"quantitative","title":null},"y2":{"field":"c"},
    "fill":{"condition":{"test":"datum.c < datum.o","value":"#000000"},"value":"#ffffff"}}},
  {"data":{"name":"dnote"},"mark":{"type":"text","font":"Liberation Serif","fontSize":8.4,"color":"#34418a","align":"left","baseline":"middle"},
   "encoding":{"x":{"field":"i","type":"quantitative","title":null},"y":{"field":"p","type":"quantitative","title":null},"text":{"field":"t"}}},
  {"data":{"name":"dlev"},"mark":{"type":"tick","orient":"horizontal","size":15.5,"thickness":5.5,"opacity":1},
   "encoding":{"x":{"datum":87.77,"type":"quantitative","title":null},"y":{"field":"p","type":"quantitative","title":null},
    "color":{"condition":[{"test":"datum.k=='red'","value":"#a01c1c"},{"test":"datum.k=='blue'","value":"#3030f0"},{"test":"datum.k=='green'","value":"#2a962a"}],"value":"#101010"}}},
  {"data":{"name":"dlev"},"mark":{"type":"text","font":"Liberation Sans","fontSize":4,"color":"#ffffff","align":"center","baseline":"middle"},
   "encoding":{"x":{"datum":87.77,"type":"quantitative","title":null},"y":{"field":"p","type":"quantitative","title":null},"text":{"field":"lab"}}},
  {"data":{"name":"dtime"},"mark":{"type":"tick","orient":"horizontal","size":35,"thickness":7,"color":"#b42a2a","opacity":1},
   "encoding":{"x":{"field":"i","type":"quantitative","title":null},"y":{"datum":1.34858,"type":"quantitative","title":null}}},
  {"data":{"name":"dtime"},"mark":{"type":"text","font":"Liberation Sans","fontSize":4.3,"color":"#ffffff","align":"center","baseline":"middle"},
   "encoding":{"x":{"field":"i","type":"quantitative","title":null},"y":{"datum":1.34858,"type":"quantitative","title":null},"text":{"field":"t"}}}
 ]}
]
}
